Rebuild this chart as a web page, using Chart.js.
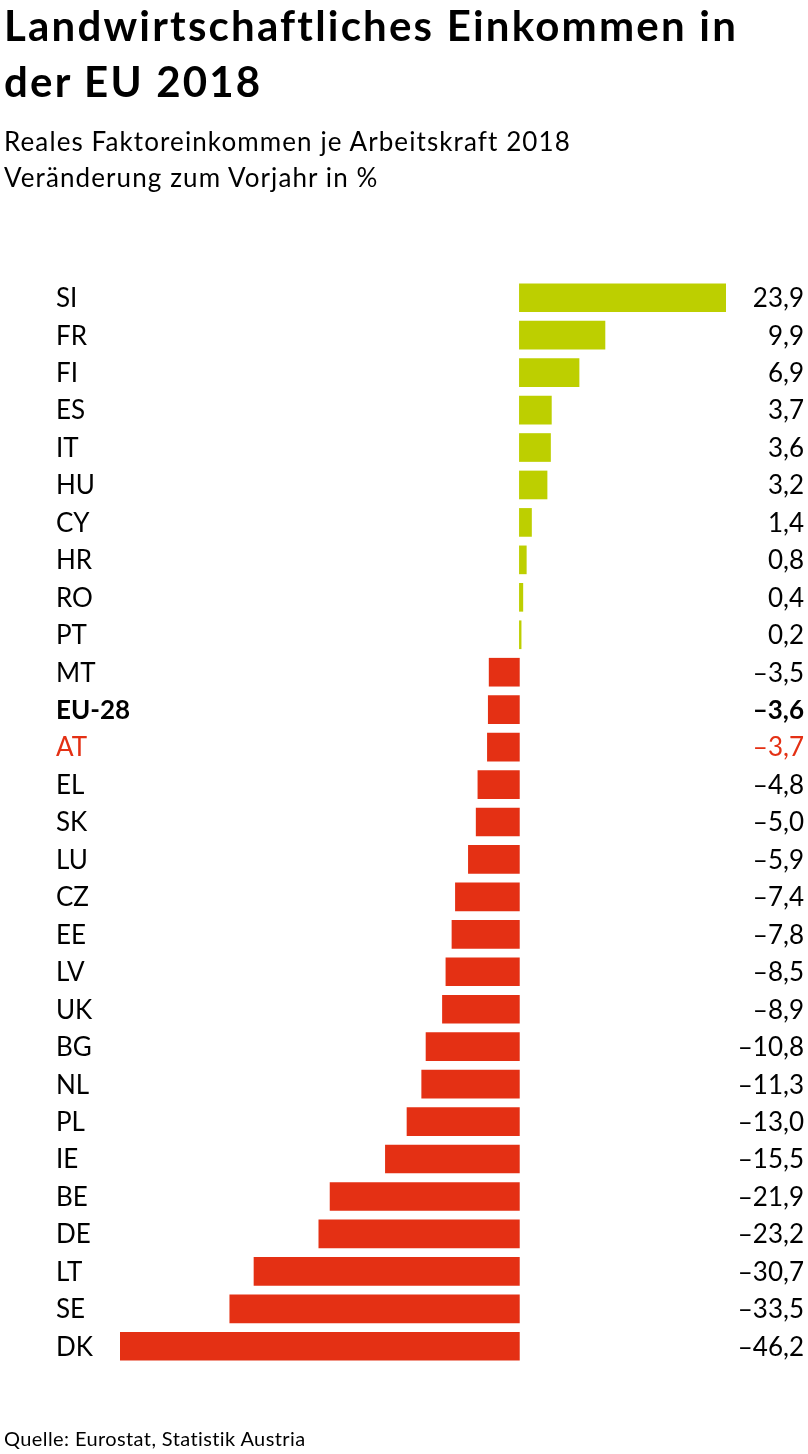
<!DOCTYPE html>
<html>
<head>
<meta charset="utf-8">
<script src="https://cdn.jsdelivr.net/npm/chart.js@4"></script>
<style>
  body { margin: 0; background: #fff; font-family: Lato, "Open Sans", sans-serif; color: #000; }
  #wrap { position: relative; width: 808px; height: 1454px; overflow: hidden; }
  canvas { position: absolute; left: 0; top: 0; }
  .txt { position: absolute; left: 4px; white-space: nowrap; }
  #title { top: -3px; font-size: 42px; font-weight: 700; line-height: 56px; letter-spacing: 2.2px; }
  #sub { top: 123px; font-size: 26px; line-height: 36px; letter-spacing: 1.1px; }
  #src { top: 1426px; font-size: 20px; letter-spacing: 0.4px; }
</style>
</head>
<body>
<div id="wrap">
  <canvas id="chart" width="808" height="1454"></canvas>
  <div class="txt" id="title">Landwirtschaftliches Einkommen in<br>der EU 2018</div>
  <div class="txt" id="sub">Reales Faktoreinkommen je Arbeitskraft 2018<br>Veränderung zum Vorjahr in %</div>
  <div class="txt" id="src">Quelle: Eurostat, Statistik Austria</div>
</div>
<script>
const countries = ['SI', 'FR', 'FI', 'ES', 'IT', 'HU', 'CY', 'HR', 'RO', 'PT', 'MT', 'EU-28', 'AT',
    'EL', 'SK', 'LU', 'CZ', 'EE', 'LV', 'UK', 'BG', 'NL', 'PL', 'IE', 'BE', 'DE', 'LT', 'SE', 'DK'];
const changes = [23.9, 9.9, 6.9, 3.7, 3.6, 3.2, 1.4, 0.8, 0.4, 0.2, -3.5, -3.6, -3.7,
    -4.8, -5.0, -5.9, -7.4, -7.8, -8.5, -8.9, -10.8, -11.3, -13.0, -15.5, -21.9, -23.2, -30.7, -33.5, -46.2];

const GREEN = '#bdcf00';
const RED = '#e43014';

function fmt(v) {
    const s = Math.abs(v).toFixed(1).replace('.', ',');
    return v < 0 ? '\u2013' + s : s;
}

const labelPlugin = {
    id: 'rowLabels',
    afterDraw(chart) {
        const ctx = chart.ctx;
        const y = chart.scales.y;
        ctx.save();
        ctx.textBaseline = 'middle';
        countries.forEach((c, i) => {
            const py = y.getPixelForValue(i) + 1;
            const bold = c === 'EU-28';
            ctx.font = (bold ? '700 ' : '400 ') + '26px Lato, sans-serif';
            ctx.fillStyle = c === 'AT' ? RED : '#000';
            ctx.textAlign = 'left';
            ctx.fillText(c, 56, py);
            ctx.textAlign = 'right';
            ctx.fillText(fmt(changes[i]), 804, py);
        });
        ctx.restore();
    }
};

new Chart(document.getElementById('chart'), {
    type: 'bar',
    data: {
        labels: countries,
        datasets: [{
            data: changes,
            backgroundColor: changes.map(v => v >= 0 ? GREEN : RED),
            barThickness: 28,
            borderWidth: 0
        }]
    },
    options: {
        indexAxis: 'y',
        responsive: false,
        animation: false,
        devicePixelRatio: 1,
        layout: { padding: { left: 120, right: 82, top: 279, bottom: 89 } },
        scales: {
            x: { display: false, min: -46.2, max: 23.9 },
            y: { display: false }
        },
        plugins: {
            legend: { display: false },
            tooltip: { enabled: false }
        }
    },
    plugins: [labelPlugin]
});
</script>
</body>
</html>
